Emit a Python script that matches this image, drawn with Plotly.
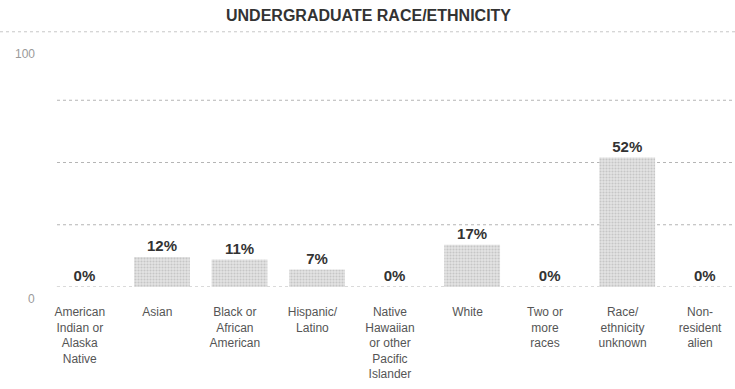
import plotly.graph_objects as go

categories = [
    "American<br>Indian or<br>Alaska<br>Native",
    "Asian",
    "Black or<br>African<br>American",
    "Hispanic/<br>Latino",
    "Native<br>Hawaiian<br>or other<br>Pacific<br>Islander",
    "White",
    "Two or<br>more<br>races",
    "Race/<br>ethnicity<br>unknown",
    "Non-<br>resident<br>alien",
]
values = [0, 12, 11, 7, 0, 17, 0, 52, 0]
value_labels = [f"{v}%" for v in values]
grid_values = [0, 25, 50, 75]
axis_labels = {0: "0", 100: "100"}
title_text = "UNDERGRADUATE RACE/ETHNICITY"

fig = go.Figure()
fig.add_trace(go.Bar(
    x=list(range(len(categories))),
    y=values,
    width=0.72,
    offset=-0.3,
    text=value_labels,
    textposition="outside",
    cliponaxis=False,
    textfont=dict(family="Liberation Sans", size=15, color="#333333", weight="bold"),
    marker=dict(
        color="#dcdcdc",
        line=dict(width=0),
        pattern=dict(shape=".", fgcolor="#a8a8a8", bgcolor="#e4e4e4", size=3, solidity=0.4),
    ),
    hoverinfo="skip",
))

shapes = []
for g in grid_values:
    shapes.append(dict(type="line", xref="paper", yref="y", x0=16 / 694, x1=1, y0=g, y1=g,
                       line=dict(color="#b5b5b5", width=1, dash="dot"), layer="below"))
# floor corner diagonal
shapes.append(dict(type="line", xref="paper", yref="y", x0=4 / 694, x1=16 / 694, y0=-3.8, y1=0,
                   line=dict(color="#c0c0c0", width=1, dash="dot"), layer="below"))
# title separator
shapes.append(dict(type="line", xref="paper", yref="paper", x0=-41 / 694, x1=1, y0=1.025, y1=1.025,
                   line=dict(color="#c8c8c8", width=1, dash="dot")))

annotations = [
    dict(text=title_text, xref="paper", yref="paper", x=(368 - 41) / 694, y=1.0, yshift=23,
         xanchor="center", yanchor="middle", showarrow=False,
         font=dict(family="Liberation Sans", size=16, color="#333333", weight="bold")),
]
yshifts = {0: -12, 100: -16}
for v, t in axis_labels.items():
    annotations.append(dict(text=t, xref="paper", yref="y", x=0, y=v, xanchor="right", yanchor="middle",
                            xshift=-4, yshift=yshifts[v], showarrow=False,
                            font=dict(family="Liberation Sans", size=12, color="#9a9a9a")))

fig.update_layout(
    width=735, height=389,
    margin=dict(l=41, r=0, t=38, b=102),
    paper_bgcolor="white", plot_bgcolor="white",
    showlegend=False,
    shapes=shapes,
    annotations=annotations,
    xaxis=dict(
        tickmode="array", tickvals=list(range(len(categories))), ticktext=categories,
        range=[-0.5, 8.45], showgrid=False, zeroline=False, showline=False, ticks="",
        tickangle=0, ticklabelstandoff=16,
        tickfont=dict(family="Liberation Sans", size=12, color="#555555"),
        fixedrange=True,
    ),
    yaxis=dict(range=[0, 100], showgrid=False, zeroline=False, showticklabels=False,
               showline=False, ticks="", fixedrange=True),
    bargap=0.3,
)
fig.write_html("out.html", post_script="document.body.style.margin='0';",
               config={"displayModeBar": False})
